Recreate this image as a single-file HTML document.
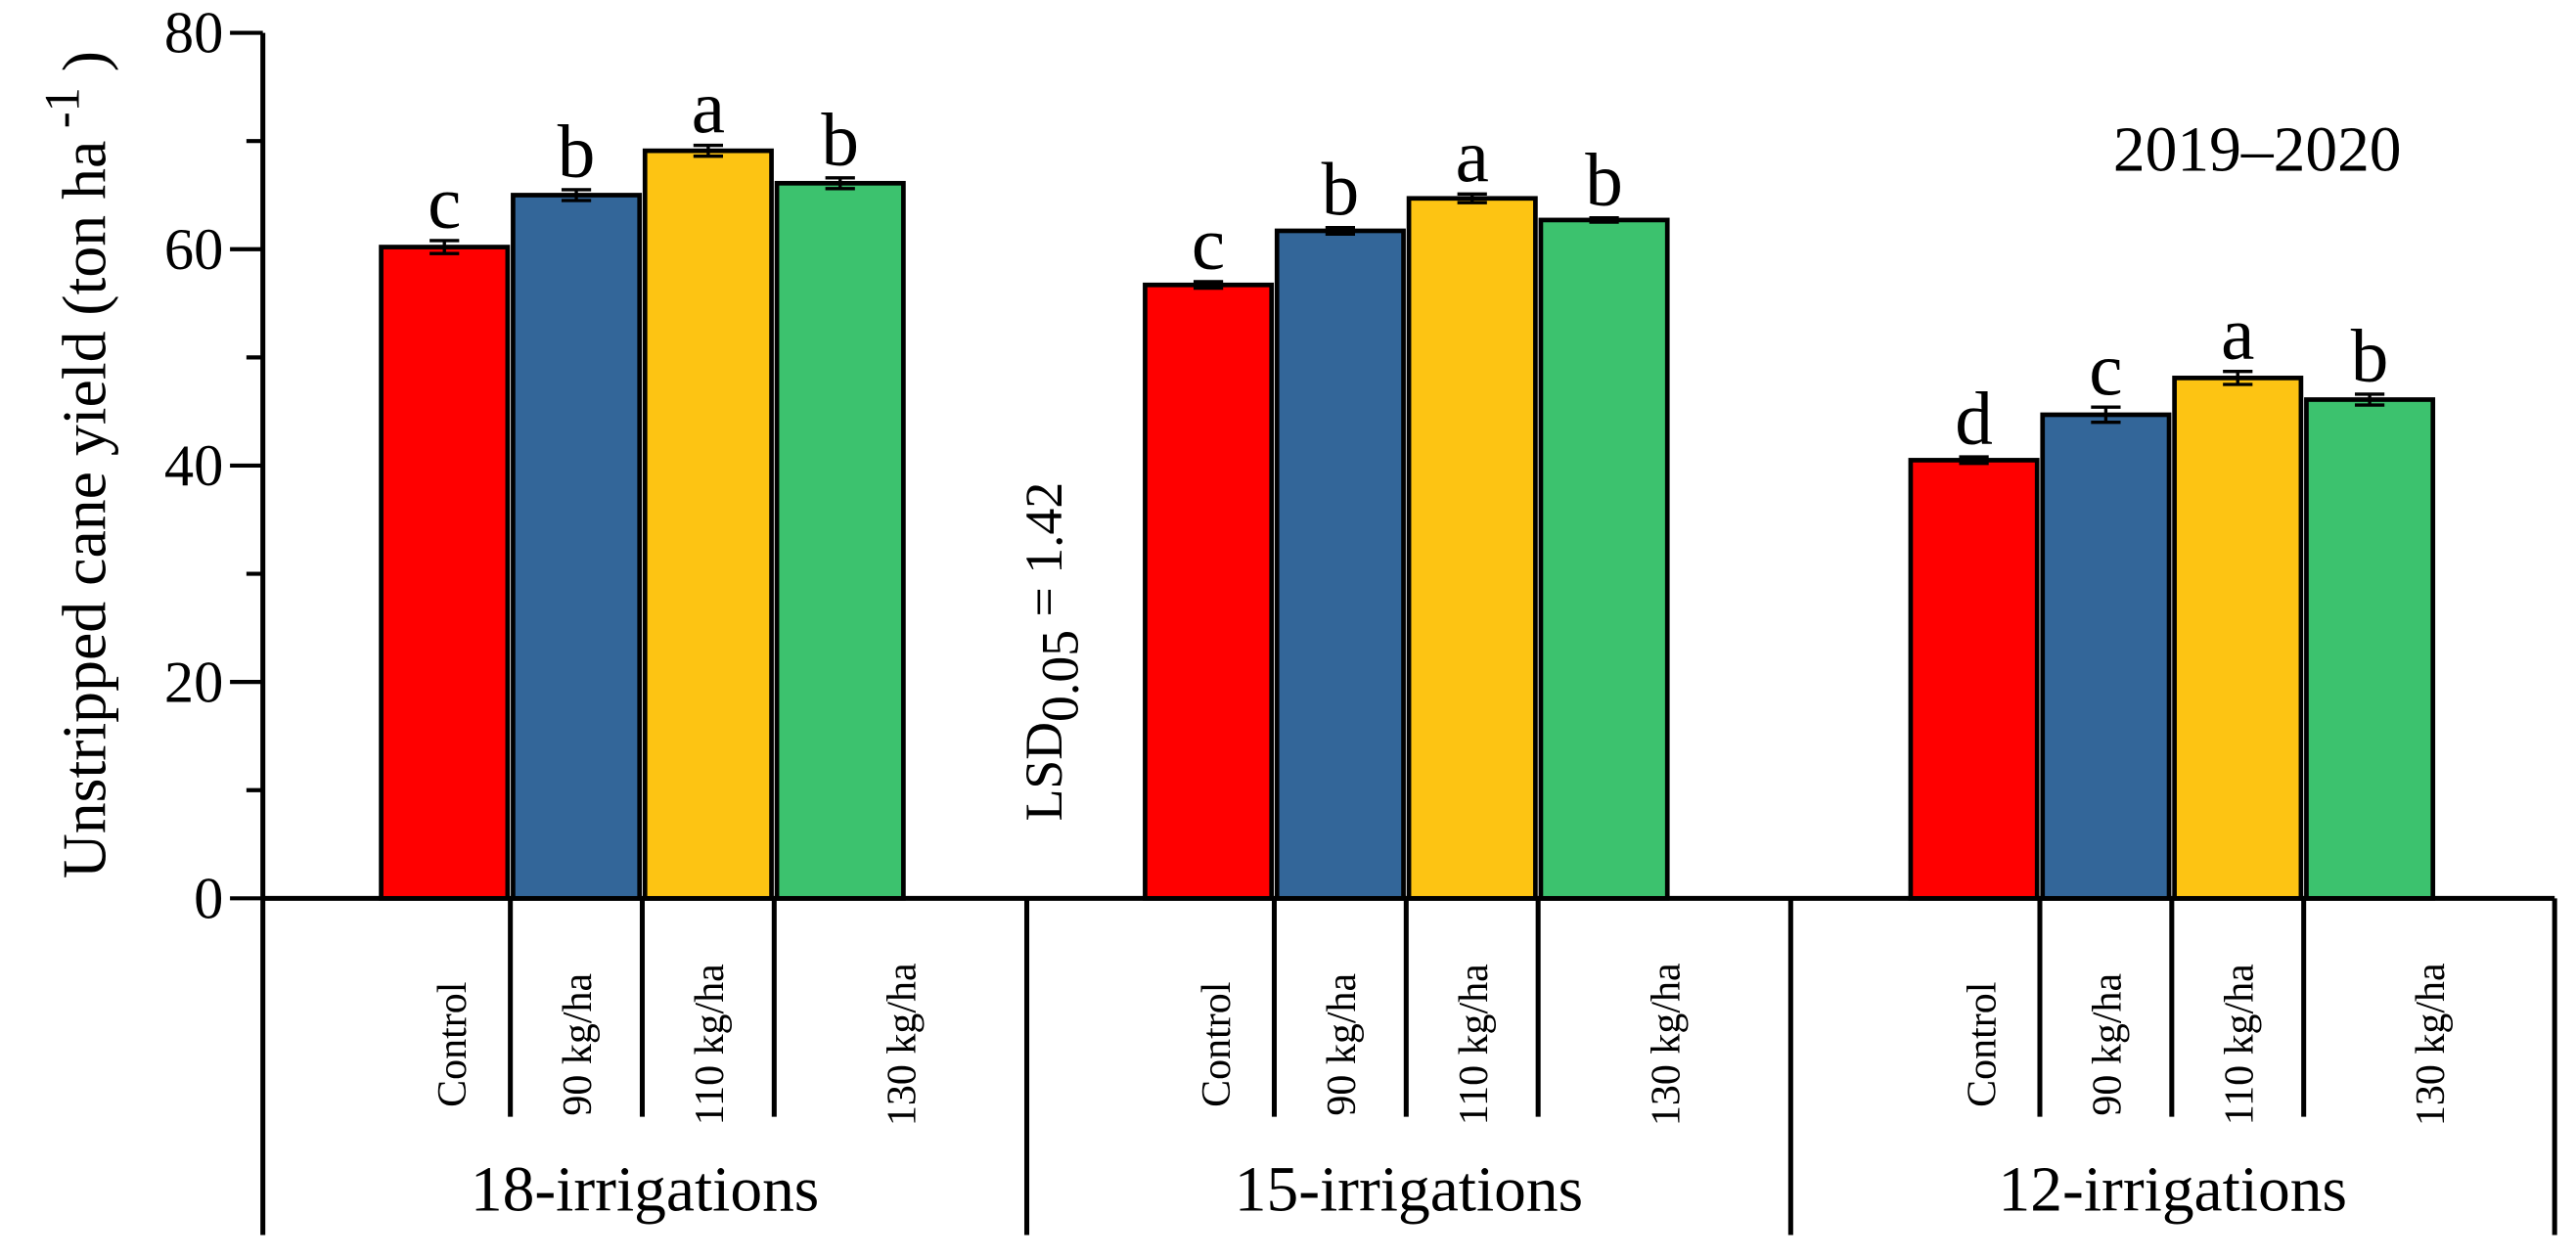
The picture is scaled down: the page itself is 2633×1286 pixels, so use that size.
<!DOCTYPE html>
<html><head><meta charset="utf-8"><style>
html,body{margin:0;padding:0;background:#fff;}
svg{display:block;font-family:"Liberation Serif",serif;}
text,tspan{font-family:"Liberation Serif",serif;}
</style></head><body>
<svg id="chart" width="2633" height="1286" viewBox="0 0 1568 766" preserveAspectRatio="none" xmlns="http://www.w3.org/2000/svg"></svg>
<script>
const groups = ["18-irrigations","15-irrigations","12-irrigations"];
const treatments = ["Control","90 kg/ha","110 kg/ha","130 kg/ha"];
const values = [[60.2,65.0,69.1,66.1],[56.7,61.7,64.7,62.7],[40.5,44.7,48.1,46.1]];
const errors = [[0.6,0.5,0.5,0.5],[0.3,0.3,0.4,0.2],[0.3,0.7,0.6,0.5]];
const letters = [["c","b","a","b"],["c","b","a","b"],["d","c","a","b"]];
const yTicks = [0,20,40,60,80];
const colors = ["#ff0000","#336699","#fdc413","#3cc26e"];

const svg = document.getElementById('chart');
const NS = 'http://www.w3.org/2000/svg';
function mk(tag, attrs, text, parent){const e=document.createElementNS(NS,tag);for(const k in attrs)e.setAttribute(k,attrs[k]);if(tag==='text'||tag==='tspan')e.setAttribute('font-family','Liberation Serif, serif');if(text!==undefined)e.textContent=text;(parent||svg).appendChild(e);return e;}
const X0=160, Y0=547, YTOP=20, YMAX=80;
function y(v){return Y0-(v/YMAX)*(Y0-YTOP);}
const groupStart=[160,625,1090], groupW=465;
const barStart=[232,697,1163], barW=77, barGap=3.3;

let e=mk('line',{x1:X0,y1:YTOP,x2:X0,y2:752,stroke:'#000','stroke-width':3});
 
for(let v=0;v<=YMAX;v+=10){
  const major=v%20===0;
  e=mk('line',{x1:major?140:150,y1:y(v),x2:X0,y2:y(v),stroke:'#000','stroke-width':2.5});
   
}
yTicks.forEach(v=>{
  e=mk('text',{x:136,y:y(v)+12,'text-anchor':'end','font-size':36},String(v));
   
});
e=mk('text',{transform:'translate(64,283) rotate(-90)','text-anchor':'middle','font-size':38});
 
mk('tspan',{},'Unstripped cane yield (ton ha',e);
mk('tspan',{dy:-16,'font-size':30},' -1',e);
mk('tspan',{dy:16},' )',e);

e=mk('line',{x1:X0,y1:Y0,x2:1555,y2:Y0,stroke:'#000','stroke-width':3});
 
[625,1090,1555].forEach(x=>{
  e=mk('line',{x1:x,y1:Y0,x2:x,y2:752,stroke:'#000','stroke-width':3});
   
});

groups.forEach((g,gi)=>{
  treatments.forEach((t,ti)=>{
    const bx=barStart[gi]+ti*(barW+barGap);
    const v=values[gi][ti], er=errors[gi][ti];
    e=mk('rect',{x:bx,y:y(v),width:barW,height:Y0-y(v),fill:colors[ti],stroke:'#000','stroke-width':2.8});
     
    const cx=bx+barW/2;
    e=mk('path',{d:`M${cx-9},${y(v+er)}H${cx+9}M${cx-9},${y(v-er)}H${cx+9}M${cx},${y(v+er)}V${y(v-er)}`,stroke:'#000','stroke-width':2,fill:'none'});
     
    e=mk('text',{x:cx,y:y(v+er)-8,'text-anchor':'middle','font-size':46},letters[gi][ti]);
     
    const cellL = ti===0?groupStart[gi]:bx-barGap/2;
    const cellR = ti===3?groupStart[gi]+groupW:bx+barW+barGap/2;
    if(ti>0){
      e=mk('line',{x1:cellL,y1:Y0,x2:cellL,y2:680,stroke:'#000','stroke-width':3});
       
    }
    const lx = ti===0?cx+4:(ti===3?(cellL+cellR)/2:cx);
    e=mk('text',{transform:`translate(${lx+9},636) rotate(-90)`,'text-anchor':'middle','font-size':25},t);
     
  });
  e=mk('text',{x:groupStart[gi]+groupW/2,y:737,'text-anchor':'middle','font-size':39},g);
   
});

e=mk('text',{x:1374,y:104,'text-anchor':'middle','font-size':39},'2019–2020');
 
e=mk('text',{transform:'translate(646,500) rotate(-90)','font-size':32});
 
mk('tspan',{},'LSD',e);
mk('tspan',{dy:10},'0.05',e);
mk('tspan',{dy:-10},' = 1.42',e);
</script>
</body></html>
